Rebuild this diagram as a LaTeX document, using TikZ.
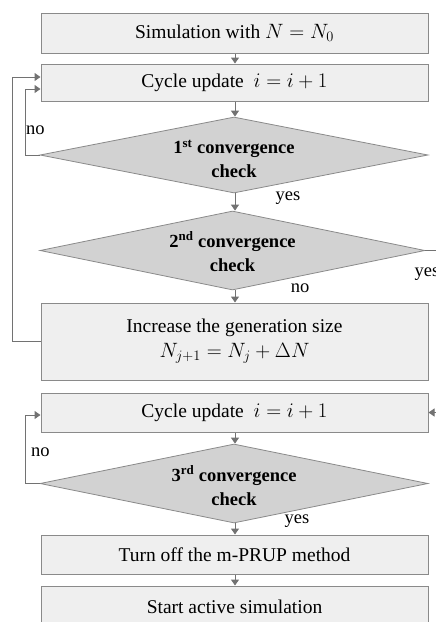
\documentclass[tikz,border=0pt]{standalone}
\usepackage{fontspec}
\setmainfont{Liberation Serif}
\usetikzlibrary{shapes.geometric,arrows.meta}
\definecolor{boxfill}{HTML}{EFEFEF}
\definecolor{boxline}{HTML}{8A8A8A}
\definecolor{dfill}{HTML}{D2D2D2}
\definecolor{conn}{HTML}{727272}
\tikzset{
  procbox/.style={draw=boxline, fill=boxfill, line width=1pt, rectangle, minimum width=387pt, inner sep=0pt, align=center, font=\fontsize{19.5}{25}\selectfont},
  decis/.style={draw=boxline, fill=dfill, line width=0.8pt, diamond, aspect=5, minimum width=388pt, inner sep=0pt},
  dtext/.style={align=center, font=\fontsize{18.5}{24}\selectfont\bfseries, inner sep=0pt},
  flow/.style={draw=conn, line width=1pt, -{Triangle[width=8pt,length=6pt]}},
  lab/.style={font=\fontsize{18.5}{20}\selectfont, inner sep=0pt}
}
\begin{document}
\begin{tikzpicture}[x=1pt,y=-1pt]
\useasboundingbox (0,0) rectangle (436,622);
\clip (0,0) rectangle (436,622);
\fill[white] (0,0) rectangle (436,622);
\node[procbox, minimum height=40pt] (b1) at (234.5,33) {Simulation with $N = N_0$};
\node[procbox, minimum height=37pt] (b2) at (234.5,82.5) {Cycle update \ $i = i + 1$};
\node[decis, minimum height=76pt, label={[dtext, yshift=-4pt]center:1\textsuperscript{st} convergence\\check}] (d1) at (234,155) {};
\node[decis, minimum height=79pt, minimum width=385pt, label={[dtext, yshift=-1pt]center:2\textsuperscript{nd} convergence\\check}] (d2) at (232.5,250.5) {};
\node[procbox, minimum height=77pt] (b3) at (234.5,341.5) {Increase the generation size\\$N_{j+1} = N_j + \Delta N$};
\node[procbox, minimum height=39pt] (b4) at (234.5,412.5) {Cycle update \ $i = i + 1$};
\node[decis, minimum height=79pt, label={[dtext, yshift=-2pt]center:3\textsuperscript{rd} convergence\\check}] (d3) at (234,483.5) {};
\node[procbox, minimum height=39pt] (b5) at (234.5,554.5) {Turn off the m-PRUP method};
\node[procbox, minimum height=42pt] (b6) at (234.5,607) {Start active simulation};

\draw[flow] (b1.south -| 235,0) -- (b2.north -| 235,0);
\draw[flow] (b2.south -| 235,0) -- (d1.north -| 235,0);
\draw[flow] (d1.south -| 235,0) -- (d2.north -| 235,0);
\draw[flow] (d2.south -| 235,0) -- (b3.north -| 235,0);
\draw[flow] (b4.south -| 235,0) -- (d3.north -| 235,0);
\draw[flow] (d3.south -| 235,0) -- (b5.north -| 235,0);
\draw[flow] (b5.south -| 235,0) -- (b6.north -| 235,0);

\draw[flow] (d1.west) -| (25,89) -- ([yshift=-6.5pt]b2.west);
\draw[flow] (b3.west) -| (12,77) -- ([yshift=5.5pt]b2.west);
\draw[flow] (d3.west) -| (25,415) -- ([yshift=-2.5pt]b4.west);
\draw[flow] (d2.east) -- (450,250.5) |- (b4.east);

\node[lab, anchor=west] (n1) at (26,130) {no};
\node[lab] (y1) at (288,198) {yes};
\node[lab] (y2) at (427,274) {yes};
\node[lab] (n2) at (300,288) {no};
\node[lab, anchor=west] (n3) at (31,452) {no};
\node[lab] (y3) at (297,521) {yes};
\end{tikzpicture}
\end{document}
